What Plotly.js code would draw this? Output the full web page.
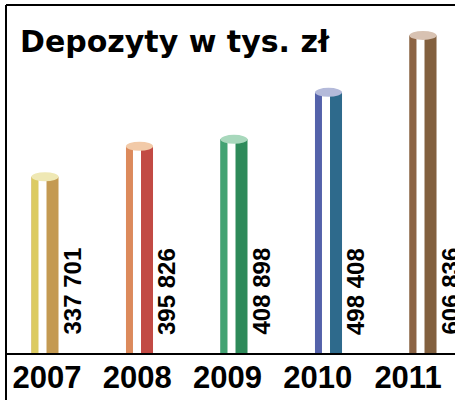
<!DOCTYPE html>
<html>
<head>
<meta charset="utf-8">
<script src="https://cdn.plot.ly/plotly-3.0.1.min.js"></script>
<style>html,body{margin:0;padding:0;background:#fff;}#chart{width:455px;height:400px;}</style>
</head>
<body>
<div id="chart"></div>
<script>
// ---- data ----
const years = ['2007', '2008', '2009', '2010', '2011'];
const deposits = [337701, 395826, 408898, 498408, 606836];
const titleText = 'Depozyty w tys. zł';

// ---- styles ----
const leftColors  = ['#dccb62', '#dc8a5c', '#42a272', '#5462aa', '#8c6444'];
const rightColors = ['#c49a52', '#c24a44', '#2e8a5a', '#2e6a8c', '#82603f'];
const capColors   = ['#efe8b4', '#f2caa8', '#a8d8bc', '#b4bada', '#d8c2b2'];

function fmt(v) { return String(v).replace(/\B(?=(\d{3})+(?!\d))/g, ' '); }

const barW = 0.286;   // full cylinder width (category units)
const traces = [
  { type: 'bar', x: years, y: deposits, width: barW, offset: -barW / 2,
    marker: { color: rightColors, line: { width: 0 } }, hoverinfo: 'skip' },
  { type: 'bar', x: years, y: deposits, width: 0.078, offset: -barW / 2,
    marker: { color: leftColors, line: { width: 0 } }, hoverinfo: 'skip' },
  { type: 'bar', x: years, y: deposits, width: 0.085, offset: -barW / 2 + 0.074,
    marker: { color: '#ffffff', line: { width: 0 } }, hoverinfo: 'skip' },
  { type: 'scatter', x: years.map((_, i) => i), y: years.map(() => 0), xaxis: 'x2', yaxis: 'y',
    mode: 'markers', marker: { opacity: 0 }, hoverinfo: 'skip' }
];

const shapes = deposits.map((v, i) => ({
  type: 'circle', xref: 'x', yref: 'y', xsizemode: 'pixel', ysizemode: 'pixel',
  xanchor: i, yanchor: v, x0: -13.5, x1: 13.5, y0: -4.5, y1: 4.5,
  fillcolor: capColors[i], line: { width: 0 }, layer: 'above'
}));
// frame lines
const frame = { color: '#000', width: 2 };
shapes.push({ type: 'line', xref: 'paper', yref: 'paper', x0: 0, x1: 0, y0: -0.2, y1: 1, line: frame });
shapes.push({ type: 'line', xref: 'paper', yref: 'paper', x0: 0, x1: 1.1, y0: 1, y1: 1, line: frame });
shapes.push({ type: 'line', xref: 'paper', yref: 'paper', x0: 0, x1: 1.1, y0: 0, y1: 0, line: frame });

const annotations = deposits.map((v, i) => ({
  x: i, y: 0, xref: 'x', yref: 'y', text: '<b>' + fmt(v) + '</b>', showarrow: false,
  textangle: -90, xanchor: 'center', yanchor: 'bottom', xshift: 27, yshift: 17,
  font: { family: 'Liberation Sans, Arial, sans-serif', size: 24, color: '#000' }
}));

const layout = {
  width: 455, height: 400,
  margin: { l: 6, r: 0, t: 5, b: 46 },
  paper_bgcolor: '#fff', plot_bgcolor: '#fff',
  showlegend: false, barmode: 'overlay',
  title: { text: titleText, xref: 'container', yref: 'container', x: 20 / 455, xanchor: 'left',
           y: 1 - 41 / 400, yanchor: 'middle',
           font: { family: 'DejaVu Sans, sans-serif', size: 30, weight: 700, color: '#000' } },
  xaxis: { type: 'category', range: [-0.4127, 4.3386], showticklabels: false, showgrid: false,
           zeroline: false, showline: false, ticks: '' },
  xaxis2: { type: 'linear', overlaying: 'x', anchor: 'y', side: 'bottom', range: [-0.4543, 4.5208],
            tickmode: 'array', tickvals: years.map((_, i) => i), ticktext: years,
            showgrid: false, zeroline: false, showline: false, ticks: '', ticklabelstandoff: 2,
            tickfont: { family: 'Liberation Sans, Arial, sans-serif', size: 31, weight: 700, color: '#000' } },
  yaxis: { range: [0, 664800], showticklabels: false, showgrid: false, zeroline: false, showline: false, ticks: '' },
  shapes: shapes,
  annotations: annotations
};

Plotly.newPlot('chart', traces, layout, { staticPlot: true, displayModeBar: false });
</script>
</body>
</html>
